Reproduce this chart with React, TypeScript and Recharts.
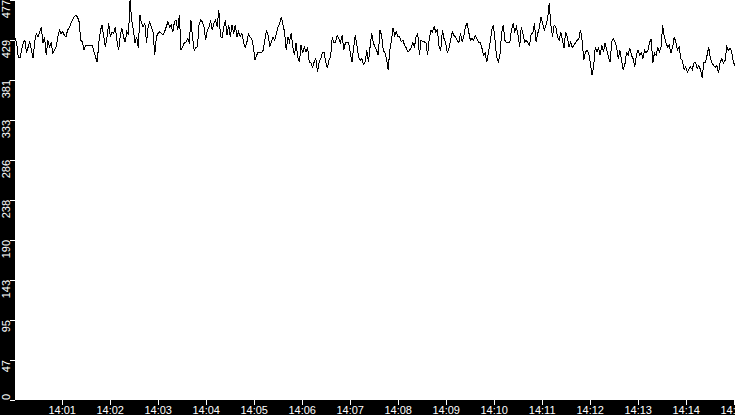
import { LineChart, Line, XAxis, YAxis, CartesianGrid } from "recharts";

// seconds after 14:00 covered by the trace
const startSec = 1;
const endSec = 901;

const xTicks = [60, 120, 180, 240, 300, 360, 420, 480, 540, 600, 660, 720, 780, 840, 900];
const xTickLabels = [
  "14:01", "14:02", "14:03", "14:04", "14:05", "14:06", "14:07", "14:08",
  "14:09", "14:10", "14:11", "14:12", "14:13", "14:14", "14:15",
];

const yTicks = [0, 47.7, 95.4, 143.1, 190.8, 238.5, 286.2, 333.9, 381.6, 429.3, 477];
const yTickLabels = ["0", "47", "95", "143", "190", "238", "286", "333", "381", "429", "477"];

// sampled values, read left to right off the trace
const samples = [
  432, 426, 409, 408, 417, 426, 429, 414, 421, 427, 417, 408, 427, 437, 433, 439, 445, 426, 433, 411,
  429, 421, 426, 414, 417, 421, 432, 441, 437, 439, 435, 433, 441, 444, 449, 453, 457, 459, 457, 451,
  429, 427, 417, 423, 423, 422, 423, 423, 415, 409, 403, 426, 441, 447, 433, 421, 433, 449, 433, 439, 437,
  445, 429, 417, 433, 444, 433, 427, 439, 435, 477, 453, 441, 426, 433, 420, 459, 449, 445, 449, 426,
  445, 451, 444, 439, 411, 433, 437, 439, 437, 435, 439, 445, 451, 445, 447, 439, 451, 453, 441, 459,
  417, 421, 426, 427, 431, 427, 453, 433, 417, 420, 421, 449, 453, 451, 445, 429, 441, 445, 453, 441,
  449, 453, 445, 465, 433,
  432, 445, 453, 435, 447, 433, 447, 437, 447, 433, 439, 433, 437, 427, 420, 426, 437, 433, 431, 421,
  405, 411, 415, 414, 414, 417, 429, 441, 435, 421, 427, 433, 429, 437, 445, 449, 457, 447, 439, 417,
  433, 427, 437, 421, 411, 426, 409, 403, 423, 414, 421, 415, 421, 403, 402, 397, 403, 407, 391, 403,
  407, 414,
  415, 403, 396, 405, 409, 433, 426, 427, 435, 431, 426, 435, 417, 426, 427, 426, 414, 403, 420, 435,
  423, 409, 405, 407, 400, 403, 417, 403, 421, 437, 426, 421, 417, 411, 441, 435, 417, 414, 407, 394,
  417, 429, 444, 435, 439, 433, 433, 427, 429, 423, 420, 415, 417, 420, 426, 421, 433, 437, 411, 429,
  427, 427, 426,
  411, 431, 441, 439, 445, 439, 441, 421, 417, 441, 431, 426, 414, 420, 429, 439, 435, 433, 429, 426,
  437, 427, 433, 445, 449, 439, 429, 431, 429, 435, 431, 426, 426, 420, 411, 414, 403, 414, 426, 441,
  447, 429, 409, 403, 411, 437, 447, 429, 426, 427, 426, 441, 449, 439, 445, 435, 421, 445, 437, 427,
  429, 426, 423, 437,
  437, 449, 427, 437, 444, 457, 449, 441, 447, 455, 473, 447, 433, 447, 445, 433, 429, 439, 429, 420,
  439, 433, 421, 427, 420, 423, 426, 429, 431, 441, 429, 405, 415, 417, 414, 402, 388, 397, 421, 415,
  420, 411, 423, 415, 426, 417, 409, 403, 427, 431, 427, 421, 407, 417, 405, 394, 400, 414, 411, 420,
  411, 407,
  397, 411, 417, 411, 414, 407, 417, 414, 417, 426, 431, 402, 414, 411, 420, 415, 421, 447, 433, 426,
  421, 423, 414, 420, 433, 427, 417, 421, 407, 405, 394, 397, 391, 395, 397, 394, 402, 403, 395, 399,
  394, 384, 402, 403, 411, 421, 407, 402, 399, 397, 399, 390, 403, 407, 402, 405, 421, 417, 420, 415,
  403, 399,
];

const step = (endSec - startSec) / (samples.length - 1);
const data = samples.map((v, i) => ({ t: startSec + i * step, v }));

const font = "'Liberation Sans', Arial, sans-serif";

function YTick({ y, index }: any) {
  const isBottom = index === 0;
  return (
    <text
      x={9.5}
      y={y}
      transform={`rotate(-90, 9.5, ${y})`}
      textAnchor={isBottom ? "start" : "end"}
      fill="#fff"
      fontSize={11}
      fontFamily={font}
    >
      {yTickLabels[index]}
    </text>
  );
}

function XTick({ x, index }: any) {
  return (
    <text x={x} y={413.5} textAnchor="middle" fill="#fff" fontSize={11} fontFamily={font}>
      {xTickLabels[index]}
    </text>
  );
}

export default function App() {
  return (
    <div style={{ width: 735, height: 415, background: "#000", overflow: "hidden" }}>
      <style>{"body{margin:0}"}</style>
      <LineChart
        width={735}
        height={415}
        data={data}
        margin={{ top: 0, right: 0, left: 0, bottom: 0 }}
      >
        <CartesianGrid horizontal={false} vertical={false} fill="#fff" stroke="none" />
        <XAxis
          dataKey="t"
          type="number"
          domain={[startSec, endSec]}
          ticks={xTicks}
          height={15}
          tickSize={5}
          axisLine={false}
          tickLine={{ stroke: "#fff", shapeRendering: "crispEdges" }}
          tick={<XTick />}
          interval={0}
        />
        <YAxis
          type="number"
          domain={[0, 477]}
          ticks={yTicks}
          width={15}
          tickSize={5}
          axisLine={false}
          tickLine={{ stroke: "#fff", shapeRendering: "crispEdges" }}
          tick={<YTick />}
          interval={0}
          allowDataOverflow
        />
        <Line
          type="linear"
          dataKey="v"
          stroke="#000"
          strokeWidth={1}
          shapeRendering="crispEdges"
          dot={false}
          isAnimationActive={false}
        />
      </LineChart>
    </div>
  );
}
